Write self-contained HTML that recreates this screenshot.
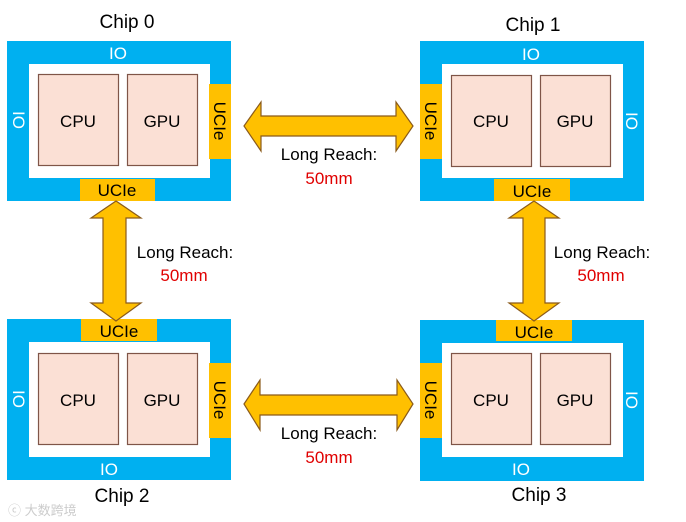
<!DOCTYPE html>
<html><head><meta charset="utf-8"><style>
html,body{margin:0;padding:0;background:#fff;width:686px;height:522px;overflow:hidden}
text{font-family:"Liberation Sans",sans-serif}
</style></head><body>
<svg width="686" height="522" viewBox="0 0 686 522" xmlns="http://www.w3.org/2000/svg">
<!-- Chip 0 -->
<rect x="7" y="41" width="224" height="160" fill="#00b0f0"/>
<rect x="29" y="64" width="181" height="114" fill="#fff"/>
<rect x="38.5" y="74.5" width="80" height="91" fill="#fbe0d5" stroke="#7f5548" stroke-width="1.2"/>
<rect x="127.5" y="74.5" width="70" height="91" fill="#fbe0d5" stroke="#7f5548" stroke-width="1.2"/>
<rect x="209" y="84" width="22" height="75" fill="#ffc000"/>
<rect x="80" y="179" width="75" height="22" fill="#ffc000"/>
<!-- Chip 1 -->
<rect x="420" y="41" width="224" height="160" fill="#00b0f0"/>
<rect x="442" y="64" width="181" height="114" fill="#fff"/>
<rect x="451.5" y="75.5" width="80" height="91" fill="#fbe0d5" stroke="#7f5548" stroke-width="1.2"/>
<rect x="540.5" y="75.5" width="70" height="91" fill="#fbe0d5" stroke="#7f5548" stroke-width="1.2"/>
<rect x="420" y="84" width="22" height="75" fill="#ffc000"/>
<rect x="494" y="179" width="76" height="22" fill="#ffc000"/>
<!-- Chip 2 -->
<rect x="7" y="319" width="224" height="161" fill="#00b0f0"/>
<rect x="29" y="342" width="181" height="115" fill="#fff"/>
<rect x="38.5" y="353.5" width="80" height="91" fill="#fbe0d5" stroke="#7f5548" stroke-width="1.2"/>
<rect x="127.5" y="353.5" width="70" height="91" fill="#fbe0d5" stroke="#7f5548" stroke-width="1.2"/>
<rect x="209" y="363" width="22" height="75" fill="#ffc000"/>
<rect x="81" y="319" width="76" height="22" fill="#ffc000"/>
<!-- Chip 3 -->
<rect x="420" y="320" width="224" height="161" fill="#00b0f0"/>
<rect x="442" y="343" width="181" height="114" fill="#fff"/>
<rect x="451.5" y="353.5" width="80" height="91" fill="#fbe0d5" stroke="#7f5548" stroke-width="1.2"/>
<rect x="540.5" y="353.5" width="70" height="91" fill="#fbe0d5" stroke="#7f5548" stroke-width="1.2"/>
<rect x="420" y="363" width="22" height="75" fill="#ffc000"/>
<rect x="496" y="320" width="76" height="21" fill="#ffc000"/>

<!-- Arrows -->
<g fill="#ffc000" stroke="#8a5a1a" stroke-width="1.2">
<polygon points="244,126 261,102 261,116 396,116 396,102 413,126 396,151 396,136 261,136 261,151"/>
<polygon points="244,404 260,380 260,395 397,395 397,380 413,404 397,430 397,415 260,415 260,430"/>
<polygon points="116,201 141,218 126,218 126,303 141,303 116,321 91,303 103,303 103,218 91,218"/>
<polygon points="534,201 559,218 545,218 545,303 559,303 534,321 509,303 523,303 523,218 509,218"/>
</g>

<!-- Text -->
<g font-size="17" fill="#000" text-anchor="middle">
<text x="127" y="28" font-size="19">Chip 0</text>
<text x="533" y="31" font-size="19">Chip 1</text>
<text x="122" y="502" font-size="19">Chip 2</text>
<text x="539" y="501" font-size="19">Chip 3</text>

<text x="78" y="127">CPU</text><text x="162" y="127">GPU</text>
<text x="491" y="127">CPU</text><text x="575" y="127">GPU</text>
<text x="78" y="406">CPU</text><text x="162" y="406">GPU</text>
<text x="491" y="406">CPU</text><text x="575" y="406">GPU</text>

<text x="117" y="196">UCIe</text>
<text x="532" y="197">UCIe</text>
<text x="119" y="337">UCIe</text>
<text x="534" y="338">UCIe</text>
<text transform="translate(214,121) rotate(90)">UCIe</text>
<text transform="translate(425,121) rotate(90)">UCIe</text>
<text transform="translate(214,400) rotate(90)">UCIe</text>
<text transform="translate(425,400) rotate(90)">UCIe</text>
</g>
<g font-size="17" fill="#fff" text-anchor="middle">
<text x="118" y="59">IO</text>
<text x="531" y="60">IO</text>
<text x="109" y="475">IO</text>
<text x="521" y="475">IO</text>
<text transform="translate(13,120) rotate(90)">IO</text>
<text transform="translate(626,121) rotate(90)">IO</text>
<text transform="translate(13,399) rotate(90)">IO</text>
<text transform="translate(626,400) rotate(90)">IO</text>
</g>
<g font-size="17" text-anchor="middle">
<text x="329" y="160" fill="#000">Long Reach:</text>
<text x="329" y="184" fill="#e00000">50mm</text>
<text x="329" y="439" fill="#000">Long Reach:</text>
<text x="329" y="463" fill="#e00000">50mm</text>
<text x="185" y="258" fill="#000">Long Reach:</text>
<text x="184" y="281" fill="#e00000">50mm</text>
<text x="602" y="258" fill="#000">Long Reach:</text>
<text x="601" y="281" fill="#e00000">50mm</text>
</g>
<text x="8" y="515" font-size="13" fill="#ccc" font-family="Liberation Sans, Noto Sans CJK SC, sans-serif">ⓒ 大数跨境</text>
</svg>
</body></html>
